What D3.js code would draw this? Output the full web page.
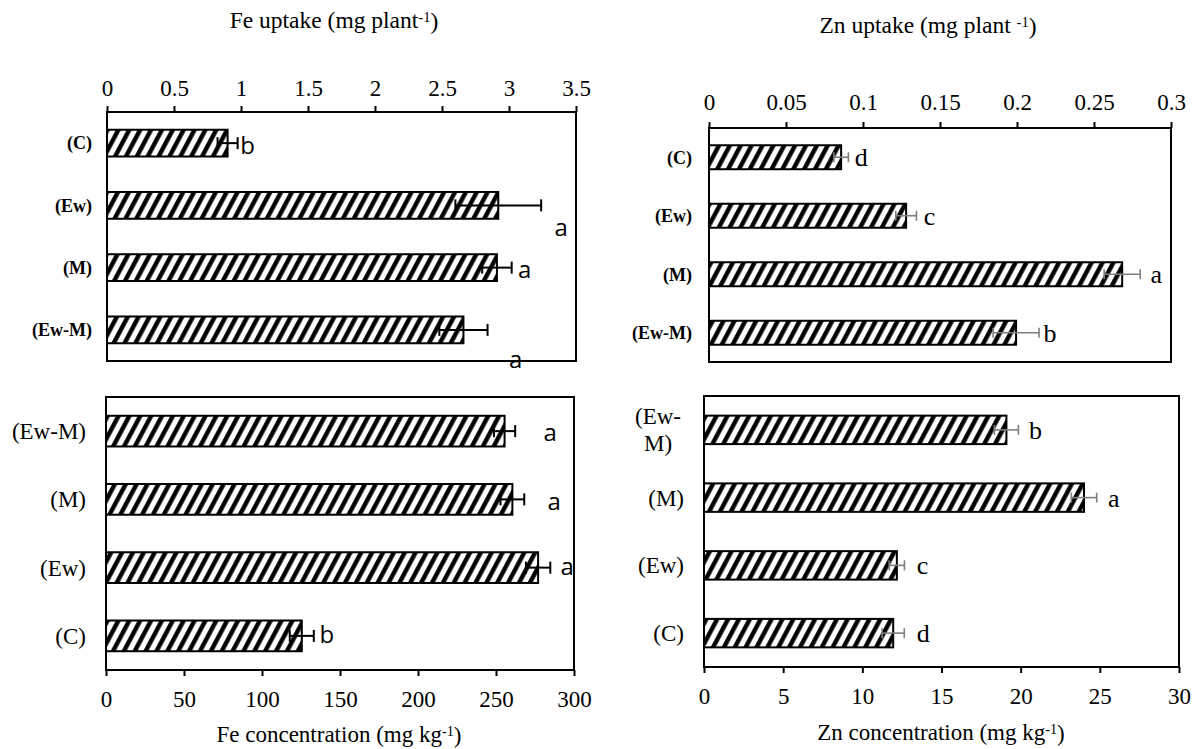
<!DOCTYPE html>
<html>
<head>
<meta charset="utf-8">
<script src="https://cdn.jsdelivr.net/npm/d3@7/dist/d3.min.js"></script>
<style>
  html, body { margin: 0; padding: 0; background: #fff; }
  svg { display: block; }
  .serif { font-family: "Liberation Serif", "Times New Roman", Times, serif; }
  .sans { font-family: "Open Sans", "Liberation Sans", sans-serif; }
</style>
</head>
<body>
<svg id="chart" width="1198" height="749"></svg>
<script>
// ---------------- DATA ----------------
const feUptakeCats    = ["(C)", "(Ew)", "(M)", "(Ew-M)"];
const feUptakeVals    = [0.90, 2.92, 2.91, 2.66];
const feUptakeErr     = [0.075, 0.32, 0.11, 0.18];
const feUptakeLetters = ["b", "a", "a", "a"];
const feUptakeTicks   = [0, 0.5, 1, 1.5, 2, 2.5, 3, 3.5];

const feConcCats    = ["(Ew-M)", "(M)", "(Ew)", "(C)"];
const feConcVals    = [255.5, 260.5, 277, 125.5];
const feConcErr     = [6.8, 7.6, 7.8, 7.7];
const feConcLetters = ["a", "a", "a", "b"];
const feConcTicks   = [0, 50, 100, 150, 200, 250, 300];

const znUptakeCats    = ["(C)", "(Ew)", "(M)", "(Ew-M)"];
const znUptakeVals    = [0.0858, 0.128, 0.2683, 0.1994];
const znUptakeErr     = [0.0047, 0.0067, 0.0117, 0.0149];
const znUptakeLetters = ["d", "c", "a", "b"];
const znUptakeTicks   = [0, 0.05, 0.1, 0.15, 0.2, 0.25, 0.3];

const znConcCats    = ["(Ew-M)", "(M)", "(Ew)", "(C)"];
const znConcVals    = [19.1, 24.0, 12.18, 11.95];
const znConcErr     = [0.76, 0.8, 0.48, 0.7];
const znConcLetters = ["b", "a", "c", "d"];
const znConcTicks   = [0, 5, 10, 15, 20, 25, 30];

// ---------------- DRAW ----------------
const svg = d3.select("#chart");
svg.append("rect").attr("width", 1198).attr("height", 749).attr("fill", "#fff");

const defs = svg.append("defs");
const P = 9.6;
const pat = defs.append("pattern")
  .attr("id", "hatch")
  .attr("patternUnits", "userSpaceOnUse")
  .attr("width", P).attr("height", P)
  .attr("patternTransform", "rotate(28)");
pat.append("rect").attr("width", P).attr("height", P).attr("fill", "#fff");
pat.append("line").attr("x1", 2.3).attr("x2", 2.3).attr("y1", -1).attr("y2", P + 1)
  .attr("stroke", "#000").attr("stroke-width", 4.4);

function fmt(v) { return String(+v.toFixed(3)); }

function panel(o) {
  const g = svg.append("g");
  const x = d3.scaleLinear().domain(o.domain).range([o.x0, o.x1]);
  const y = d3.scaleBand().domain(o.cats).range([o.y0, o.y1]).paddingInner(o.pad).paddingOuter(o.pad / 2);
  const bw = y.bandwidth();
  const mid = c => y(c) + bw / 2;

  const axisY = o.top ? o.y0 : o.y1;
  const axis = (o.top ? d3.axisTop(x) : d3.axisBottom(x))
    .tickValues(o.ticks).tickFormat(fmt).tickSize(6).tickSizeOuter(0);
  const ag = g.append("g").attr("transform", `translate(0,${axisY})`).call(axis);
  ag.attr("font-family", null).attr("font-size", null);
  ag.select(".domain").remove();
  ag.selectAll(".tick line").attr("stroke", "#000").attr("stroke-width", 2);
  ag.selectAll(".tick text")
    .attr("class", "serif")
    .attr("y", o.top ? -o.tickLabOff : o.tickLabOff).attr("dy", "0.35em")
    .style("font-size", o.tickFont + "px").attr("fill", "#000");

  g.selectAll(".bar").data(o.cats).join("rect")
    .attr("x", x(0)).attr("y", c => y(c))
    .attr("width", (c, i) => x(o.vals[i]) - x(0)).attr("height", bw)
    .attr("fill", "url(#hatch)").attr("stroke", "#000").attr("stroke-width", 2);

  const eg = g.append("g").attr("stroke", o.errColor).attr("stroke-width", o.errW);
  o.cats.forEach((c, i) => {
    const lo = x(o.vals[i] - o.errs[i]), hi = x(o.vals[i] + o.errs[i]), cy = mid(c);
    eg.append("line").attr("x1", lo).attr("x2", hi).attr("y1", cy).attr("y2", cy);
    eg.append("line").attr("x1", lo).attr("x2", lo).attr("y1", cy - o.cap).attr("y2", cy + o.cap);
    eg.append("line").attr("x1", hi).attr("x2", hi).attr("y1", cy - o.cap).attr("y2", cy + o.cap);
  });

  o.cats.forEach((c, i) => {
    g.append("text")
      .attr("class", o.letClass)
      .attr("x", x(o.vals[i] + o.errs[i]) + o.letOff[i][0])
      .attr("y", mid(c) + o.letOff[i][1])
      .attr("text-anchor", "middle").attr("dy", "0.35em")
      .style("font-size", o.letFont + "px").attr("fill", "#000")
      .text(o.letters[i]);
  });

  g.append("rect").attr("x", o.x0).attr("y", o.y0)
    .attr("width", o.x1 - o.x0).attr("height", o.y1 - o.y0)
    .attr("fill", "none").attr("stroke", "#000").attr("stroke-width", 2);

  o.cats.forEach((c, i) => {
    const t = g.append("text").attr("class", "serif")
      .style("font-size", o.catFont + "px")
      .style("font-weight", o.catBold ? "bold" : "normal").attr("fill", "#000");
    if (o.wrap && o.wrap[c]) {
      t.attr("text-anchor", "middle").attr("x", o.wrapX).attr("y", mid(c));
      o.wrap[c].forEach((s, k) => {
        t.append("tspan").attr("x", o.wrapX).attr("dy", k === 0 ? "-0.25em" : "1.15em").text(s);
      });
    } else {
      t.attr("text-anchor", "end").attr("x", o.catX).attr("y", mid(c)).attr("dy", "0.35em").text(c);
    }
  });

  const tt = g.append("text").attr("class", "serif").attr("x", o.titleX).attr("y", o.titleY)
    .attr("text-anchor", "middle").attr("dy", "0.35em")
    .style("font-size", o.titleFont + "px").attr("fill", "#000");
  tt.append("tspan").text(o.title[0]);
  tt.append("tspan").attr("dy", "-0.45em").style("font-size", (o.titleFont * 0.62) + "px").text(o.title[1]);
  tt.append("tspan").attr("dy", "0.3em").text(o.title[2]);
}

panel({
  cats: feUptakeCats, vals: feUptakeVals, errs: feUptakeErr, letters: feUptakeLetters,
  domain: [0, 3.5], ticks: feUptakeTicks, top: true,
  x0: 107, x1: 576, y0: 112, y1: 361, pad: 0.57,
  tickFont: 23, tickLabOff: 24,
  errColor: "#000", errW: 2, cap: 6,
  letClass: "sans", letFont: 24,
  letOff: [[10, 2], [20, 22], [13, 2], [28, 30]],
  catX: 92, catFont: 18, catBold: true,
  title: ["Fe uptake (mg plant", "-1", ")"], titleX: 334, titleY: 20, titleFont: 23.5
});

panel({
  cats: feConcCats, vals: feConcVals, errs: feConcErr, letters: feConcLetters,
  domain: [0, 300], ticks: feConcTicks, top: false,
  x0: 106, x1: 574, y0: 397, y1: 670, pad: 0.55,
  tickFont: 23, tickLabOff: 29,
  errColor: "#000", errW: 2, cap: 6,
  letClass: "sans", letFont: 24,
  letOff: [[35, 1], [30, 2], [17, -1], [13, -1]],
  catX: 86, catFont: 23, catBold: false,
  title: ["Fe concentration (mg kg", "-1", ")"], titleX: 339, titleY: 734, titleFont: 23
});

panel({
  cats: znUptakeCats, vals: znUptakeVals, errs: znUptakeErr, letters: znUptakeLetters,
  domain: [0, 0.3], ticks: znUptakeTicks, top: true,
  x0: 709, x1: 1171, y0: 128, y1: 362, pad: 0.59,
  tickFont: 23, tickLabOff: 26,
  errColor: "#7f7f7f", errW: 1.6, cap: 5,
  letClass: "serif", letFont: 26,
  letOff: [[13, 0], [13, 0], [16, 0], [11, 0]],
  catX: 692, catFont: 18, catBold: true,
  title: ["Zn uptake (mg plant ", "-1", ")"], titleX: 928, titleY: 25, titleFont: 23.5
});

panel({
  cats: znConcCats, vals: znConcVals, errs: znConcErr, letters: znConcLetters,
  domain: [0, 30], ticks: znConcTicks, top: false,
  x0: 704, x1: 1179, y0: 396, y1: 667, pad: 0.58,
  tickFont: 23, tickLabOff: 29,
  errColor: "#7f7f7f", errW: 1.6, cap: 5,
  letClass: "serif", letFont: 26,
  letOff: [[17, 0], [17, 0], [18, 0], [19, 0]],
  catX: 684, catFont: 23, catBold: false,
  wrap: { "(Ew-M)": ["(Ew-", "M)"] }, wrapX: 658,
  title: ["Zn concentration (mg kg", "-1", ")"], titleX: 941, titleY: 732, titleFont: 23
});
</script>
</body>
</html>
